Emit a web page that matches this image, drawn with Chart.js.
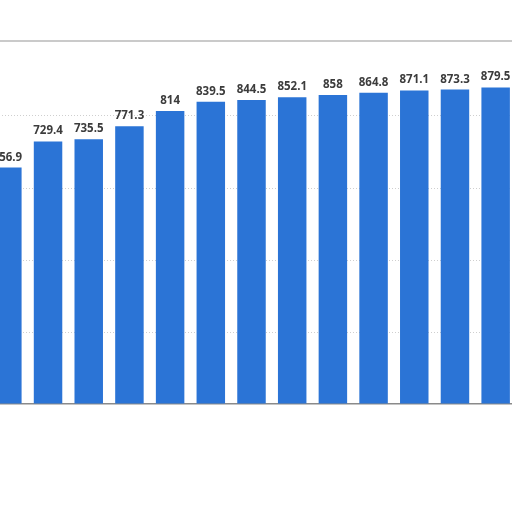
<!DOCTYPE html>
<html>
<head>
<meta charset="utf-8">
<script src="https://cdn.jsdelivr.net/npm/chart.js@4"></script>
<style>
  html, body { margin:0; padding:0; background:#fff; overflow:hidden; }
  #wrap { position:absolute; left:-13px; top:0; width:529px; height:512px; }
</style>
</head>
<body>
<div id="wrap"><canvas id="chart"></canvas></div>
<script>
var categories = ['1','2','3','4','5','6','7','8','9','10','11','12','13'];
var values = [656.9, 729.4, 735.5, 771.3, 814, 839.5, 844.5, 852.1, 858, 864.8, 871.1, 873.3, 879.5];
var yTicks = [0, 200, 400, 600, 800, 1000];

// value labels over the bars
var barLabels = {
  id: 'barLabels',
  afterDatasetsDraw: function(chart) {
    var ctx = chart.ctx;
    var meta = chart.getDatasetMeta(0);
    ctx.save();
    ctx.font = 'bold 11.5px "Open Sans"';
    ctx.fillStyle = '#3c3c3c';
    ctx.textAlign = 'center';
    ctx.textBaseline = 'alphabetic';
    for (var i=0;i<meta.data.length;i++){
      var b = meta.data[i];
      ctx.fillText(String(values[i]), b.x, b.y - 7);
    }
    // top frame line
    var a = chart.chartArea;
    ctx.strokeStyle = '#b8b8b8';
    ctx.lineWidth = 1.5;
    ctx.beginPath();
    ctx.moveTo(0, a.top - 3);
    ctx.lineTo(chart.width, a.top - 3);
    ctx.stroke();
    ctx.restore();
  }
};

new Chart(document.getElementById('chart').getContext('2d'), {
  type: 'bar',
  data: { labels: categories, datasets: [{ data: values, backgroundColor: '#2b74d6', categoryPercentage: 1, barPercentage: 0.7 }] },
  options: {
    responsive: true, maintainAspectRatio: false, animation: false,
    layout: { padding: { left:0, right:0, top:44, bottom:100 } },
    plugins: { legend: { display:false }, tooltip: { enabled:false } },
    scales: {
      x: {
        grid: { display:false },
        ticks: { display:false },
        border: { display:true, color:'#8a8a8a', width:1.5 }
      },
      y: {
        min: 0, max: 1000,
        afterBuildTicks: function(axis){ axis.ticks = yTicks.map(function(v){ return { value:v }; }); },
        ticks: { display:false },
        grid: { drawTicks:false, color: function(c){ return (c.tick && (c.tick.value===0 || c.tick.value===1000)) ? 'rgba(0,0,0,0)' : '#cfcfcf'; }, lineWidth:1 },
        border: { display:false, dash:[1,2] }
      }
    }
  },
  plugins: [barLabels]
});
</script>
</body>
</html>
